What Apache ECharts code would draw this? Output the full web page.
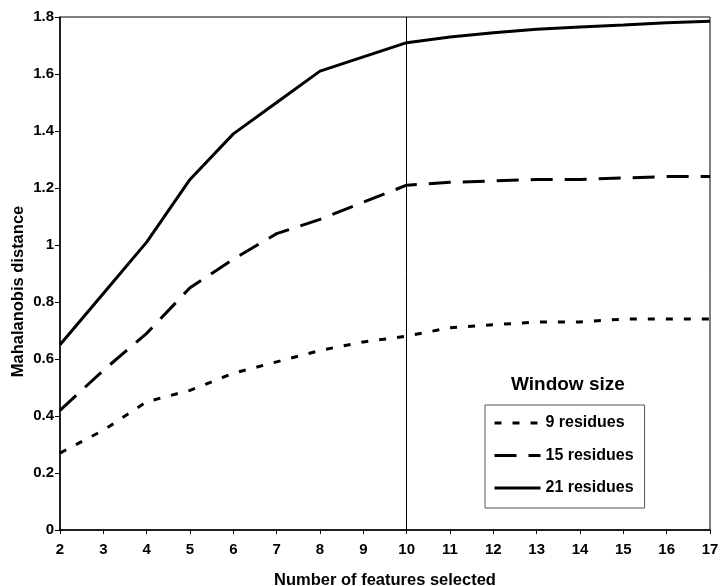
<!DOCTYPE html>
<html>
<head>
<meta charset="utf-8">
<script src="https://cdn.jsdelivr.net/npm/echarts@6/dist/echarts.min.js"></script>
<style>
  html, body { margin: 0; padding: 0; background: #fff; }
  #chart { width: 720px; height: 586px; }
</style>
</head>
<body>
<div id="chart"></div>
<script>
// data
const features = [2, 3, 4, 5, 6, 7, 8, 9, 10, 11, 12, 13, 14, 15, 16, 17]
const res9 = [0.27, 0.35, 0.45, 0.49, 0.55, 0.59, 0.63, 0.66, 0.68, 0.71, 0.72, 0.73, 0.73, 0.74, 0.74, 0.74]
const res15 = [0.42, 0.56, 0.69, 0.85, 0.95, 1.04, 1.09, 1.15, 1.21, 1.22, 1.225, 1.23, 1.23, 1.235, 1.24, 1.24]
const res21 = [0.65, 0.83, 1.01, 1.23, 1.39, 1.5, 1.61, 1.66, 1.71, 1.73, 1.745, 1.757, 1.765, 1.772, 1.78, 1.785]
const seriesNames = ['9 residues', '15 residues', '21 residues']
const markX = 10

const font = '"Liberation Sans", Arial, sans-serif'
const pairs = (ys) => features.map((x, i) => [x, ys[i]])

const chart = echarts.init(document.getElementById('chart'))

const lineSeries = (name, ys, dash) => ({
  name,
  type: 'line',
  data: pairs(ys),
  symbol: 'none',
  smooth: false,
  lineStyle: { color: '#000', width: 3, type: dash },
  itemStyle: { color: '#000' }
})

const s21 = lineSeries(seriesNames[2], res21, 'solid')
// vertical marker at 10 features
s21.markLine = {
  silent: true,
  symbol: ['none', 'none'],
  label: { show: false },
  lineStyle: { color: '#000', width: 1, type: 'solid' },
  data: [{ xAxis: markX }]
}

chart.setOption({
  animation: false,
  backgroundColor: '#fff',
  grid: {
    left: 60, right: 10, top: 17, bottom: 56,
    outerBoundsMode: 'none',
    show: true, borderColor: '#000', borderWidth: 1
  },
  xAxis: {
    type: 'value',
    min: 2, max: 17, interval: 1,
    name: 'Number of features selected',
    nameLocation: 'middle',
    nameGap: 42,
    nameTextStyle: { color: '#000', fontWeight: 'bold', fontSize: 16.5, fontFamily: font },
    axisLine: { lineStyle: { color: '#000', width: 1.5 } },
    axisTick: { length: 4, lineStyle: { color: '#000' } },
    axisLabel: { color: '#000', fontWeight: 'bold', fontSize: 15, fontFamily: font, margin: 12 },
    splitLine: { show: false }
  },
  yAxis: {
    type: 'value',
    min: 0, max: 1.8, interval: 0.2,
    name: 'Mahalanobis distance',
    nameLocation: 'middle',
    nameGap: 33,
    nameMoveOverlap: false,
    nameRotate: 90,
    nameTextStyle: { color: '#000', fontWeight: 'bold', fontSize: 16.5, fontFamily: font, padding: [0, 36, 0, 0] },
    axisLine: { show: true, lineStyle: { color: '#000', width: 1.5 } },
    axisTick: { show: true, length: 5, lineStyle: { color: '#000' } },
    axisLabel: { color: '#000', fontWeight: 'bold', fontSize: 15, fontFamily: font, margin: 6 },
    splitLine: { show: false }
  },
  legend: {
    data: seriesNames,
    orient: 'vertical',
    left: 485, top: 405,
    itemWidth: 46, itemHeight: 14, itemGap: 16.5,
    padding: [10, 11, 12, 8],
    borderColor: '#555', borderWidth: 1,
    itemStyle: { opacity: 0 },
    lineStyle: { width: 3 },
    textStyle: { color: '#000', fontWeight: 'bold', fontSize: 16, fontFamily: font }
  },
  graphic: [{
    type: 'text',
    left: 511, top: 375,
    style: {
      text: 'Window size',
      fill: '#000',
      font: 'bold 19px "Liberation Sans", Arial, sans-serif'
    }
  }],
  series: [
    lineSeries(seriesNames[0], res9, [7, 11]),
    lineSeries(seriesNames[1], res15, [22, 12]),
    s21
  ]
})

window.addEventListener('resize', () => {
  chart.resize()
})
</script>
</body>
</html>
